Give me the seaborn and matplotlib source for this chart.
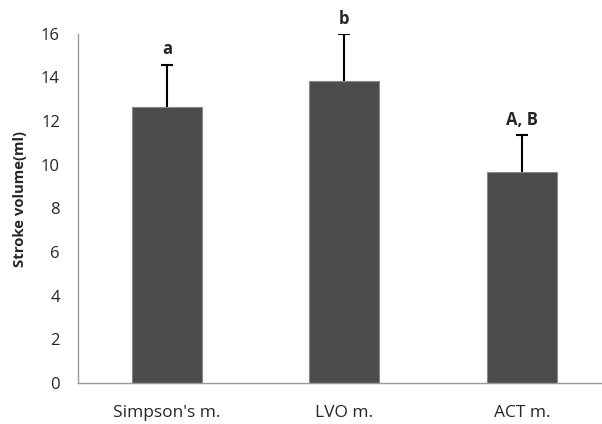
import numpy as np
import pandas as pd
import matplotlib
matplotlib.use("Agg")
import matplotlib.pyplot as plt
import seaborn as sns

# data
methods = ["Simpson's m.", "LVO m.", "ACT m."]
stroke_volume = [12.65, 13.84, 9.65]
sd_upper = [1.93, 2.12, 1.69]
sig_labels = ["a", "b", "A, B"]

sns.set_style("white")
plt.rcParams['font.family'] = ['Open Sans', 'DejaVu Sans']

df = pd.DataFrame({'method': methods, 'sv': stroke_volume})

fig = plt.figure(figsize=(6.02, 4.24), dpi=100)
ax = fig.add_axes([0.1296, 0.0967, 0.8704, 0.824])

sns.barplot(data=df, x='method', y='sv', color='#4b4b4b', width=0.394,
            edgecolor='#8a8a8a', linewidth=0.8, errorbar=None, ax=ax, saturation=1)

x = np.arange(len(methods))
eb = ax.errorbar(x, stroke_volume, yerr=[np.zeros(len(sd_upper)), sd_upper],
                 fmt='none', ecolor='black', elinewidth=1.5, capsize=4.3, capthick=1.5)
# only the upper cap, like the original
eb[1][0].set_visible(False)

for xi, v, s, lab in zip(x, stroke_volume, sd_upper, sig_labels):
    ax.text(xi, v + s + 0.3, lab, ha='center', va='bottom',
            fontsize=12, fontweight='bold')

ax.set_ylim(0, 16)
ax.set_xlim(-0.5, 2.45)
ax.set_yticks(range(0, 17, 2))
ax.set_xlabel('')
ax.set_ylabel('Stroke volume(ml)', fontsize=10.7, fontweight='bold')
ax.yaxis.set_label_coords(-0.097, 0.526)
ax.tick_params(axis='y', length=0, pad=13, labelsize=12)
ax.tick_params(axis='x', length=0, pad=16, labelsize=12.5)

for side in ['top', 'right']:
    ax.spines[side].set_visible(False)
for side in ['left', 'bottom']:
    ax.spines[side].set_color('#9a9a9a')
    ax.spines[side].set_linewidth(1.0)

plt.savefig('out.png', dpi=100)
plt.close()
